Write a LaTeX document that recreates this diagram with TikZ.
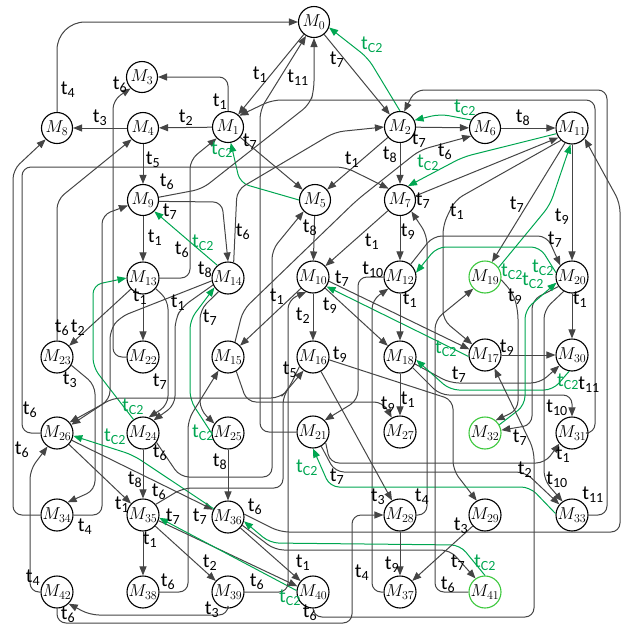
\documentclass[tikz,border=0pt]{standalone}
\usepackage{fontspec}
\usetikzlibrary{arrows.meta}
\newfontfamily\labfont{Carlito}
\definecolor{edgegray}{HTML}{454545}
\definecolor{cgreen}{HTML}{00A651}
\definecolor{ringgreen}{HTML}{3CC83C}
\newcommand{\tl}[1]{{\labfont t\textsubscript{#1}}}
\newcommand{\tg}{{\labfont\color{cgreen}t\textsubscript{C2}}}
\tikzset{
  st/.style={circle,draw=black,line width=1.1pt,minimum size=31pt,inner sep=0pt,fill=white,font=\fontsize{17}{17}\selectfont},
  gst/.style={st,draw=ringgreen},
  ed/.style={draw=edgegray,line width=1pt,rounded corners=9pt,-{Triangle[length=9pt,width=7pt]}},
  ge/.style={draw=cgreen,line width=1pt,rounded corners=9pt,-{Triangle[length=9pt,width=7pt]}},
  lb/.style={inner sep=0pt,font=\fontsize{20}{20}\selectfont}
}
\begin{document}
\begin{tikzpicture}[x=1pt,y=-1pt]
\useasboundingbox (0,0) rectangle (624,625);
% nodes
\node[st] (m0) at (314,22) {$M_{0}$};
\node[st] (m3) at (142,77) {$M_{3}$};
\node[st] (m8) at (57,128) {$M_{8}$};
\node[st] (m4) at (143,128) {$M_{4}$};
\node[st] (m1) at (228,127) {$M_{1}$};
\node[st] (m2) at (400,127) {$M_{2}$};
\node[st] (m6) at (485,128) {$M_{6}$};
\node[st] (m11) at (572,128) {$M_{11}$};
\node[st] (m9) at (143,200) {$M_{9}$};
\node[st] (m5) at (315,200) {$M_{5}$};
\node[st] (m7) at (400,200) {$M_{7}$};
\node[st] (m13) at (143,278) {$M_{13}$};
\node[st] (m14) at (228,278) {$M_{14}$};
\node[st] (m10) at (313,277) {$M_{10}$};
\node[st] (m12) at (400,277) {$M_{12}$};
\node[gst] (m19) at (485,277) {$M_{19}$};
\node[st] (m20) at (572,277) {$M_{20}$};
\node[st] (m23) at (57,357) {$M_{23}$};
\node[st] (m22) at (143,357) {$M_{22}$};
\node[st] (m15) at (228,357) {$M_{15}$};
\node[st] (m16) at (313,357) {$M_{16}$};
\node[st] (m18) at (400,357) {$M_{18}$};
\node[st] (m17) at (485,355) {$M_{17}$};
\node[st] (m30) at (572,355) {$M_{30}$};
\node[st] (m26) at (57,433) {$M_{26}$};
\node[st] (m24) at (143,433) {$M_{24}$};
\node[st] (m25) at (228,433) {$M_{25}$};
\node[st] (m21) at (313,432) {$M_{21}$};
\node[st] (m27) at (400,432) {$M_{27}$};
\node[gst] (m32) at (485,433) {$M_{32}$};
\node[st] (m31) at (572,433) {$M_{31}$};
\node[st] (m34) at (57,515) {$M_{34}$};
\node[st] (m35) at (143,515) {$M_{35}$};
\node[st] (m36) at (228,517) {$M_{36}$};
\node[st] (m28) at (400,515) {$M_{28}$};
\node[st] (m29) at (485,515) {$M_{29}$};
\node[st] (m33) at (572,515) {$M_{33}$};
\node[st] (m42) at (57,592) {$M_{42}$};
\node[st] (m38) at (143,592) {$M_{38}$};
\node[st] (m39) at (228,592) {$M_{39}$};
\node[st] (m40) at (313,592) {$M_{40}$};
\node[st] (m37) at (400,592) {$M_{37}$};
\node[gst] (m41) at (485,592) {$M_{41}$};

% upper part
\draw[ed,rounded corners=28pt] (m8.north) |- (m0.west);
\draw[ed] (m0) -- (m1);
\draw[ed] (m21.west) -- (260,432) -- (260,110) -- (m0.240);
\draw[ed] (m0) -- (m2);
\draw[ge] (m2.north) -- (368,58) -- (m0.-20);
\draw[ed] (m1.north) |- (m3.east);
\draw[ed] (m1) -- (m4);
\draw[ed] (m4) -- (m8);
\draw[ed] (m4) -- (m9);
\draw[ed] (m1) -- (m5);
\draw[ge] (m5.west) -- (240,183) -- (m1.-80);
\draw[ed] (m2) -- (m5);
\draw[ed] (m2) -- (m7);
\draw[ed] (m2) -- (m6);
\draw[ge] (m6.150) -- (440,114) -- (m2.25);
\draw[ed] (m6) -- (m11);
\draw[ge] (m11.200) -- (463,157) -- (m7.60);
\draw[ed] (m7.15) -- (m11.215);
\draw[ed] (m11.228) -- (455,200) -- (443,225) -- (443,320) -- (m17.140);
\draw[ed] (m11.245) -- (m19.65);
\draw[ge] (m19.35) -- (550,205) -- (m11.265);
\draw[ed] (m11) -- (m20);
\draw[ed] (m20) -- (m30);
\draw[ed] (m31.east) -- (595,433) -- (595,100) -- (272,100) -- (m1.45);
\draw[ed] (m33.east) -- (607,515) -- (607,90) -- (415,90) -- (m2.75);
\draw[ed] (m36.10) -- (280,532) -- (620,532) -- (620,203) -- (m11.-40);
\draw[ed] (m28.east) -- (427,515) -- (427,235) -- (m7.-45);
\draw[ed] (m15.65) -- (243,310) -- (357,200) -- (420,150) -- (m6.210);
% middle part
\draw[ed] (m7) -- (m10);
\draw[ed] (m5) -- (m10);
\draw[ed] (m7) -- (m12);
\draw[ed] (m12.50) -- (433,236) -- (547,236) -- (m20.135);
\draw[ge] (m20.165) -- (540,247) -- (437,247) -- (m12.15);
\draw[ed] (m10) -- (m15);
\draw[ed] (m10) -- (m16);
\draw[ed] (m10) -- (m18);
\draw[ed] (m10.-15) -- (m17.160);
\draw[ge] (m17.185) -- (m10.-35);
\draw[ed] (m12) -- (m18);
\draw[ed] (m12.west) -- (358,277) -- (358,400) -- (m21.45);
\draw[ed] (m37.west) -- (372,592) -- (372,300) -- (m12.225);
\draw[ed] (m9) -- (m13);
\draw[ed] (m13) -- (m22);
\draw[ed] (m13) -- (m23);
\draw[ed] (m13.-40) -- (168,300) -- (168,405) -- (m24.70);
\draw[ed] (m14.205) -- (182,307) -- (175,320) -- (175,405) -- (m24.50);
\draw[ge] (m24.125) -- (93,367) -- (93,285) -- (m13.west);
\draw[ed] (m13.east) -- (190,278) -- (190,160) -- (m1.225);
\draw[ed] (m9.10) -- (202,189) -- (310,104) -- (314,90) -- (m0.south);
\draw[ed] (m9.-5) -- (222,202) -- (m14.north);
\draw[ge] (m14.130) -- (m9.-45);
\draw[ed] (m14.70) -- (237,190) -- (335,132) -- (m2.west);
\draw[ed] (m14.190) -- (120,317) -- (110,330) -- (110,400) -- (m26.40);
\draw[ed] (m14.235) -- (200,310) -- (200,410) -- (m25.145);
\draw[ge] (m25.west) -- (190,400) -- (190,320) -- (m14.215);
\draw[ed] (m34.east) -- (102,515) -- (102,215) -- (m9.200);
\draw[ed] (m34.west) -- (13,515) -- (13,170) -- (m8.225);
\draw[ed] (m26.west) -- (22,433) -- (22,167) -- (345,167) -- (m7.135);
\draw[ed] (m23.north) -- (57,200) -- (m4.225);
\draw[ed] (m23.-30) -- (95,385) -- (95,490) -- (m34.50);
\draw[ed] (m22.west) -- (113,357) -- (113,100) -- (m3.225);
\draw[ed] (m16.215) -- (288,390) -- (280,398) -- (112,398) -- (m26.30);
\draw[ed] (m26) -- (m35);
\draw[ed] (m26) -- (m36);
\draw[ge] (m36.150) -- (133,455) -- (m26.-10);
\draw[ed] (m42.west) -- (30,592) -- (30,470) -- (m26.235);
\draw[ed] (m24) -- (m35);
\draw[ed] (m24.-35) -- (180,477) -- (272,477) -- (272,250) -- (m5.225);
\draw[ed] (m35.40) -- (183,488) -- (283,488) -- (283,395) -- (m16.235);
\draw[ed] (m25) -- (m36);
\draw[ed] (m38.east) -- (188,592) -- (188,420) -- (m15.235);
\draw[ed] (m15.-60) -- (247,402) -- (383,402) -- (m27.120);
\draw[ed] (m16) -- (m28);
\draw[ed] (m16.-10) -- (453,400) -- (453,470) -- (m29.120);
\draw[ed] (m18) -- (m27);
\draw[ed] (m18.-25) -- (450,383) -- (540,383) -- (m30.220);
\draw[ge] (m30.-100) -- (553,390) -- (450,390) -- (m18.-10);
\draw[ed] (m18.-40) -- (440,395) -- (572,395) -- (m31.north);
\draw[ed] (m17) -- (m30);
\draw[ed] (m19.-10) -- (513,293) -- (518,310) -- (518,410) -- (m32.50);
\draw[ed] (m20.215) -- (532,300) -- (532,425) -- (m32.10);
\draw[ge] (m32.30) -- (525,405) -- (525,310) -- (m20.200);
\draw[ed] (m20.240) -- (544,310) -- (544,480) -- (m33.125);
% lower part
\draw[ed] (m21.-40) -- (330,463) -- (545,463) -- (m31.220);
\draw[ed] (m21.-60) -- (335,472) -- (525,472) -- (m33.140);
\draw[ge] (m33.175) -- (530,487) -- (330,487) -- (m21.-90);
\draw[ed] (m36) -- (m40);
\draw[ed] (m35) -- (m38);
\draw[ed] (m35) -- (m39);
\draw[ed] (m35.-20) -- (m40.160);
\draw[ge] (m40.175) -- (m35.-10);
\draw[ge] (m41.north) -- (460,545) -- (270,543) -- (m36.-15);
\draw[ed] (m36.-30) -- (275,550) -- (450,550) -- (m41.125);
\draw[ed] (m39.south) -- (228,615) -- (90,615) -- (m42.-45);
\draw[ed] (m39.east) -- (288,592) -- (288,300) -- (m10.245);
\draw[ed] (m42.south) -- (57,623) -- (352,623) -- (352,515) -- (m28.west);
\draw[ed] (m40.south) -- (313,617) -- (534,617) -- (534,450) -- (m17.-55);
\draw[ed] (m28) -- (m37);
\draw[ed] (m29) -- (m37);
\draw[ed] (m41.west) -- (435,592) -- (435,320) -- (m19.225);

% transition labels
\node[lb] at (68,90) {\tl{4}};
\node[lb] at (260,75) {\tl{1}};
\node[lb] at (298,78) {\tl{11}};
\node[lb] at (337,60) {\tl{7}};
\node[lb] at (372,45) {\tg};
\node[lb] at (220,102) {\tl{1}};
\node[lb] at (186,118) {\tl{2}};
\node[lb] at (100,118) {\tl{3}};
\node[lb] at (153,160) {\tl{5}};
\node[lb] at (250,142) {\tl{7}};
\node[lb] at (222,150) {\tg};
\node[lb] at (352,160) {\tl{1}};
\node[lb] at (390,155) {\tl{8}};
\node[lb] at (419,140) {\tl{7}};
\node[lb] at (465,108) {\tg};
\node[lb] at (523,118) {\tl{8}};
\node[lb] at (445,152) {\tl{6}};
\node[lb] at (428,163) {\tg};
\node[lb] at (423,201) {\tl{7}};
\node[lb] at (457,212) {\tl{1}};
\node[lb] at (517,205) {\tl{7}};
\node[lb] at (512,272) {\tg};
\node[lb] at (562,217) {\tl{9}};
\node[lb] at (580,300) {\tl{1}};
\node[lb] at (593,495) {\tl{11}};
\node[lb] at (310,228) {\tl{8}};
\node[lb] at (372,242) {\tl{1}};
\node[lb] at (408,232) {\tl{9}};
\node[lb] at (555,240) {\tl{7}};
\node[lb] at (543,268) {\tg};
\node[lb] at (533,281) {\tg};
\node[lb] at (277,297) {\tl{1}};
\node[lb] at (303,316) {\tl{2}};
\node[lb] at (330,306) {\tl{9}};
\node[lb] at (342,279) {\tl{7}};
\node[lb] at (446,349) {\tg};
\node[lb] at (410,300) {\tl{1}};
\node[lb] at (373,270) {\tl{10}};
\node[lb] at (155,238) {\tl{1}};
\node[lb] at (140,297) {\tl{1}};
\node[lb] at (78,328) {\tl{2}};
\node[lb] at (160,382) {\tl{7}};
\node[lb] at (178,303) {\tl{1}};
\node[lb] at (133,407) {\tg};
\node[lb] at (182,250) {\tl{6}};
\node[lb] at (167,182) {\tl{6}};
\node[lb] at (170,212) {\tl{7}};
\node[lb] at (203,243) {\tg};
\node[lb] at (243,232) {\tl{6}};
\node[lb] at (205,270) {\tl{8}};
\node[lb] at (210,318) {\tl{7}};
\node[lb] at (203,433) {\tg};
\node[lb] at (85,527) {\tl{4}};
\node[lb] at (22,450) {\tl{6}};
\node[lb] at (30,410) {\tl{6}};
\node[lb] at (62,328) {\tl{6}};
\node[lb] at (70,380) {\tl{3}};
\node[lb] at (120,85) {\tl{6}};
\node[lb] at (290,370) {\tl{5}};
\node[lb] at (122,505) {\tl{1}};
\node[lb] at (200,517) {\tl{7}};
\node[lb] at (115,437) {\tg};
\node[lb] at (33,578) {\tl{4}};
\node[lb] at (135,480) {\tl{8}};
\node[lb] at (160,453) {\tl{6}};
\node[lb] at (159,492) {\tl{6}};
\node[lb] at (220,462) {\tl{8}};
\node[lb] at (168,582) {\tl{6}};
\node[lb] at (388,405) {\tl{9}};
\node[lb] at (378,497) {\tl{3}};
\node[lb] at (340,355) {\tl{9}};
\node[lb] at (408,400) {\tl{1}};
\node[lb] at (459,375) {\tl{7}};
\node[lb] at (568,382) {\tg};
\node[lb] at (589,385) {\tl{11}};
\node[lb] at (557,408) {\tl{10}};
\node[lb] at (507,348) {\tl{9}};
\node[lb] at (515,297) {\tl{9}};
\node[lb] at (520,438) {\tl{7}};
\node[lb] at (563,455) {\tl{1}};
\node[lb] at (525,470) {\tl{2}};
\node[lb] at (557,480) {\tl{10}};
\node[lb] at (337,477) {\tl{7}};
\node[lb] at (307,468) {\tg};
\node[lb] at (303,563) {\tl{1}};
\node[lb] at (150,540) {\tl{1}};
\node[lb] at (210,563) {\tl{2}};
\node[lb] at (173,517) {\tl{7}};
\node[lb] at (290,598) {\tg};
\node[lb] at (485,563) {\tg};
\node[lb] at (458,563) {\tl{7}};
\node[lb] at (212,610) {\tl{3}};
\node[lb] at (257,582) {\tl{6}};
\node[lb] at (68,615) {\tl{6}};
\node[lb] at (362,573) {\tl{4}};
\node[lb] at (310,613) {\tl{6}};
\node[lb] at (392,565) {\tl{9}};
\node[lb] at (461,526) {\tl{3}};
\node[lb] at (448,585) {\tl{6}};
\node[lb] at (422,497) {\tl{4}};
\node[lb] at (255,507) {\tl{6}};
\end{tikzpicture}
\end{document}
